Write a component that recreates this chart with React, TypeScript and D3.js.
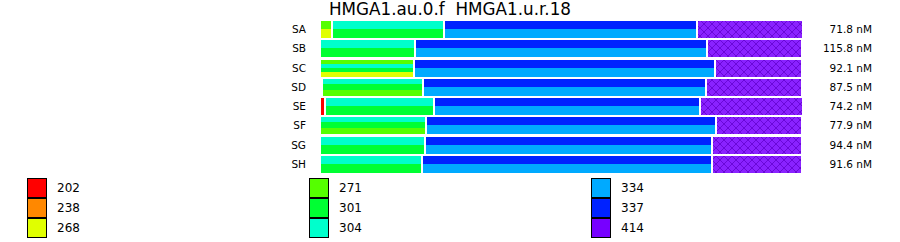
import React from "react";
import * as d3 from "d3";

const TITLE = "HMGA1.au.0.f  HMGA1.u.r.18";
const rowLabels = ["SA", "SB", "SC", "SD", "SE", "SF", "SG", "SH"];
const concLabels = ["71.8 nM", "115.8 nM", "92.1 nM", "87.5 nM", "74.2 nM", "77.9 nM", "94.4 nM", "91.6 nM"];

const legendKeys = ["202", "238", "268", "271", "301", "304", "334", "337", "414"];
const legendColors = ["#ff0000", "#ff8800", "#e0ff00", "#55ff00", "#00ff33", "#00ffcc", "#00aaff", "#0022ff", "#7700ff"];

// segment widths (percent of bar) per row
const segWidths: number[][] = [
  [2.1, 23.1, 52.7, 21.8],
  [19.5, 60.9, 19.5],
  [19.3, 62.8, 17.9],
  [0, 20.8, 59.0, 19.7],
  [0.6, 22.5, 55.5, 21.2],
  [21.8, 60.5, 17.6],
  [21.6, 59.9, 18.5],
  [21.0, 60.5, 18.5],
];
// stripes (fragment keys, top to bottom) per segment
const segStripes: string[][][] = [
  [["271", "268"], ["304", "301"], ["337", "334"], ["414"]],
  [["304", "301"], ["337", "334"], ["414"]],
  [["271", "304", "301", "268"], ["337", "334"], ["414"]],
  [["202"], ["304", "301", "271"], ["337", "334"], ["414"]],
  [["202"], ["304", "301"], ["337", "334"], ["414"]],
  [["304", "301", "271"], ["337", "334"], ["414"]],
  [["304", "301"], ["337", "334"], ["414"]],
  [["304", "301"], ["337", "334"], ["414"]],
];

const FONT = "DejaVu Sans, Verdana, sans-serif";

export default function App() {
  const W = 900, H = 242;
  const barLeft = 321;
  const gap = 2;
  const rowH = 17;
  const x = d3.scaleLinear().domain([0, 100]).range([0, 476]);
  const y = d3.scaleBand().domain(rowLabels).range([21, 173]).paddingInner(2 / 19).paddingOuter(0);
  const color = d3.scaleOrdinal<string, string>().domain(legendKeys).range(legendColors);

  const bars: React.ReactNode[] = [];
  rowLabels.forEach((r, ri) => {
    const y0 = Math.round(y(r)!);
    let cum = 0;
    segWidths[ri].forEach((w, si) => {
      const sx = barLeft + x(cum) + gap * si;
      const sw = x(w) - x(0);
      cum += w;
      if (sw < 0.5) return;
      const stripes = segStripes[ri][si];
      const n = stripes.length;
      stripes.forEach((k, ki) => {
        const t = y0 + Math.floor((rowH * ki) / n);
        const b = y0 + Math.floor((rowH * (ki + 1)) / n);
        const fill = k === "414" ? "url(#hatch414)" : color(k);
        bars.push(
          <rect key={`${ri}-${si}-${ki}`} x={Math.round(sx)} y={t} width={Math.round(sw)} height={b - t} fill={fill} shapeRendering="crispEdges" />
        );
      });
    });
  });

  const legendCols = [27, 309, 591];

  return (
    <svg width={W} height={H} style={{ position: "absolute", left: 0, top: 0 }} fontFamily={FONT}>
      <defs>
        <pattern id="hatch414" patternUnits="userSpaceOnUse" width="8" height="8">
          <rect width="8" height="8" fill="#8a22ff" />
          <path d="M0,0 L8,8 M8,0 L0,8" stroke="#6a08d8" strokeWidth="1" />
        </pattern>
      </defs>
      <rect width={W} height={H} fill="#fff" />
      <text x={450} y={15} textAnchor="middle" fontSize={16.8} fill="#000" style={{ whiteSpace: "pre" }}>
        {TITLE}
      </text>
      {rowLabels.map((r, i) => (
        <text key={r} x={306} y={Math.round(y(r)!) + 8.5} dy="0.35em" textAnchor="end" fontSize={10.5} fill="#000">
          {r}
        </text>
      ))}
      {bars}
      {concLabels.map((c, i) => (
        <text key={c + i} x={872} y={Math.round(y(rowLabels[i])!) + 8.5} dy="0.35em" textAnchor="end" fontSize={10.5} fill="#000">
          {c}
        </text>
      ))}
      {legendKeys.map((k, i) => {
        const col = Math.floor(i / 3);
        const rr = i % 3;
        const lx = legendCols[col];
        const ly = 178 + rr * 20;
        return (
          <g key={k}>
            <rect x={lx + 0.5} y={ly + 0.5} width={19} height={19} fill={color(k)} stroke="#000" strokeWidth={1} />
            <text x={lx + 30} y={ly + 10} dy="0.35em" fontSize={12} fill="#000">
              {k}
            </text>
          </g>
        );
      })}
    </svg>
  );
}
